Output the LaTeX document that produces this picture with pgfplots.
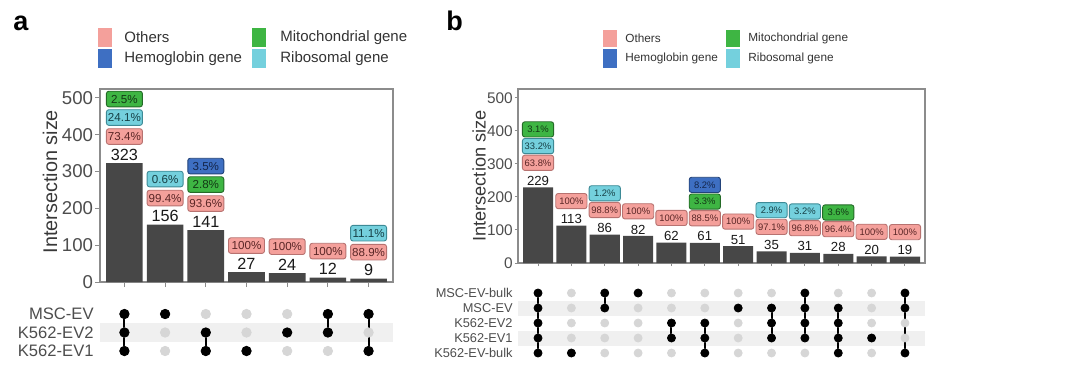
\documentclass[border=0pt]{standalone}
\usepackage{fontspec}
\setmainfont{Liberation Sans}
\usepackage{pgfplots}
\pgfplotsset{compat=1.18}
\definecolor{othF}{HTML}{F4A09B}\definecolor{othD}{HTML}{B77270}\definecolor{othT}{HTML}{5A2626}
\definecolor{hemF}{HTML}{3E6FC2}\definecolor{hemD}{HTML}{23437A}\definecolor{hemT}{HTML}{14264A}
\definecolor{mitF}{HTML}{3EB543}\definecolor{mitD}{HTML}{246A27}\definecolor{mitT}{HTML}{123815}
\definecolor{ribF}{HTML}{74D0DD}\definecolor{ribD}{HTML}{3D8A96}\definecolor{ribT}{HTML}{163F45}
\definecolor{bargrey}{HTML}{474747}
\definecolor{axgrey}{HTML}{8C8C8C}
\definecolor{tickgrey}{HTML}{4D4D4D}
\definecolor{dotgrey}{HTML}{D6D6D6}
\definecolor{bandgrey}{HTML}{F0F0F0}
\tikzset{
  pbox/.style={rounded corners=1.2pt, line width=0.45pt, inner sep=0pt},
  pa/.style={pbox, minimum width=18pt, minimum height=7.8pt, font=\fontsize{5.8}{6}\selectfont},
  pb/.style={pbox, minimum width=15.6pt, minimum height=7.6pt, font=\fontsize{4.7}{5}\selectfont},
  pO/.style={fill=othF, draw=othD, text=othT},
  pH/.style={fill=hemF, draw=hemD, text=hemT},
  pM/.style={fill=mitF, draw=mitD, text=mitT},
  pR/.style={fill=ribF, draw=ribD, text=ribT},
}
\pgfplotsset{
  barax/.style={scale only axis, anchor=south west, clip=false,
    ymin=0, tick align=outside, xtick pos=bottom, ytick pos=left,
    tick style={draw=axgrey, line width=0.5pt},
    axis line style={draw=axgrey, line width=0.6pt},
    ytick={0,100,200,300,400,500}, xticklabels={},
    /pgf/number format/assume math mode=true,
    ybar, bar width=0.9},
  matax/.style={scale only axis, anchor=south west, clip=false,
    axis line style={draw=none}, xtick=\empty, major tick length=0pt,
    ytick style={draw=none}},
}
\begin{document}
\begin{tikzpicture}[x=1pt,y=1pt]
\path[use as bounding box] (0,0) rectangle (540,194);
% panel letters
\node[anchor=base west, inner sep=0pt, font=\fontsize{13.5}{14}\selectfont\bfseries] at (6.5,179) {a};
\node[anchor=base west, inner sep=0pt, font=\fontsize{13.5}{14}\selectfont\bfseries] at (223,179) {b};
% legend a
\fill[othF] (49,170.5) rectangle (56,180);
\fill[hemF] (49,160) rectangle (56,169.5);
\fill[mitF] (126,170.5) rectangle (133,180);
\fill[ribF] (126,160) rectangle (133,169.5);
\begin{scope}[every node/.style={anchor=west, inner sep=0pt, text=black!80, font=\fontsize{7.5}{8}\selectfont}]
\node at (62,175.3) {Others};
\node at (62,164.8) {Hemoglobin gene};
\node at (140,175.3) {Mitochondrial gene};
\node at (140,164.8) {Ribosomal gene};
\end{scope}
% legend b
\fill[othF] (301.4,170.5) rectangle (308.4,179);
\fill[hemF] (301.4,160) rectangle (308.4,169.5);
\fill[mitF] (363,170.5) rectangle (370,179);
\fill[ribF] (363,160) rectangle (370,169.5);
\begin{scope}[every node/.style={anchor=west, inner sep=0pt, text=black!80, font=\fontsize{5.9}{6.5}\selectfont}]
\node at (312.5,174.8) {Others};
\node at (312.5,164.8) {Hemoglobin gene};
\node at (374,174.8) {Mitochondrial gene};
\node at (374,164.8) {Ribosomal gene};
\end{scope}
% y labels
\node[rotate=90, text=black!78, font=\fontsize{9.9}{10}\selectfont] at (25,103.25) {Intersection size};
\node[rotate=90, text=black!78, font=\fontsize{9.1}{10}\selectfont] at (239.5,106) {Intersection size};

% ===== panel a bars =====
\begin{axis}[barax, at={(50pt,53pt)}, width=146.5pt, height=96.5pt,
  xmin=-0.6, xmax=6.6, ymax=524, xtick={0,1,2,3,4,5,6},
  major tick length=2.5pt,
  yticklabel style={font=\fontsize{9.3}{10}\selectfont, text=tickgrey, inner sep=0.8pt}]
\addplot[fill=bargrey, draw=none, nodes near coords,
  nodes near coords style={font=\fontsize{8.1}{9}\selectfont, text=black!90, anchor=south, inner sep=0pt, yshift=1.2pt}]
  coordinates {(0,323) (1,156) (2,141) (3,27) (4,24) (5,12) (6,9)};
\node[pa,pO,yshift=13.25pt] at (axis cs:0,323) {73.4\%};
\node[pa,pR,yshift=22.75pt] at (axis cs:0,323) {24.1\%};
\node[pa,pM,yshift=32pt] at (axis cs:0,323) {2.5\%};
\node[pa,pO,yshift=13.25pt] at (axis cs:1,156) {99.4\%};
\node[pa,pR,yshift=22.75pt] at (axis cs:1,156) {0.6\%};
\node[pa,pO,yshift=13.25pt] at (axis cs:2,141) {93.6\%};
\node[pa,pM,yshift=22.75pt] at (axis cs:2,141) {2.8\%};
\node[pa,pH,yshift=32pt] at (axis cs:2,141) {3.5\%};
\node[pa,pO,yshift=13.25pt] at (axis cs:3,27) {100\%};
\node[pa,pO,yshift=13.25pt] at (axis cs:4,24) {100\%};
\node[pa,pO,yshift=13.25pt] at (axis cs:5,12) {100\%};
\node[pa,pO,yshift=13.25pt] at (axis cs:6,9) {88.9\%};
\node[pa,pR,yshift=22.75pt] at (axis cs:6,9) {11.1\%};
\end{axis}

% ===== panel a matrix =====
\begin{axis}[matax, at={(50pt,13.875pt)}, width=146.5pt, height=27.75pt,
  xmin=-0.6, xmax=6.6, ymin=0.5, ymax=3.5,
  ytick={1,2,3}, yticklabels={K562-EV1,K562-EV2,MSC-EV},
  yticklabel style={font=\fontsize{8.3}{9}\selectfont, text=tickgrey, inner sep=0pt, xshift=-3pt}]
\addplot[draw=none, fill=bandgrey] coordinates {(-0.6,1.5) (6.6,1.5) (6.6,2.5) (-0.6,2.5)} -- cycle;
\addplot[only marks, mark=*, mark size=2.35pt, color=dotgrey] coordinates {
 (0,1)(0,2)(0,3)(1,1)(1,2)(1,3)(2,1)(2,2)(2,3)(3,1)(3,2)(3,3)
 (4,1)(4,2)(4,3)(5,1)(5,2)(5,3)(6,1)(6,2)(6,3)};
\addplot[black, line width=1pt] coordinates {(0,1) (0,3)};
\addplot[black, line width=1pt] coordinates {(2,1) (2,2)};
\addplot[black, line width=1pt] coordinates {(5,2) (5,3)};
\addplot[black, line width=1pt] coordinates {(6,1) (6,3)};
\addplot[only marks, mark=*, mark size=2.35pt, color=black] coordinates {
 (0,1)(0,2)(0,3)(1,3)(2,1)(2,2)(3,1)(4,2)(5,2)(5,3)(6,1)(6,3)};
\end{axis}

% ===== panel b bars =====
\begin{axis}[barax, at={(259pt,62.5pt)}, width=203.5pt, height=87pt,
  xmin=-0.6, xmax=11.6, ymax=527, xtick={0,1,2,3,4,5,6,7,8,9,10,11},
  major tick length=1.6pt,
  yticklabel style={font=\fontsize{7.7}{8}\selectfont, text=tickgrey, inner sep=0.8pt}]
\addplot[fill=bargrey, draw=none, nodes near coords,
  nodes near coords style={font=\fontsize{6.6}{7}\selectfont, text=black!90, anchor=south, inner sep=0pt, yshift=0.7pt}]
  coordinates {(0,229) (1,113) (2,86) (3,82) (4,62) (5,61) (6,51) (7,35) (8,31) (9,28) (10,20) (11,19)};
\node[pb,pO,yshift=12.3pt] at (axis cs:0,229) {63.8\%};
\node[pb,pR,yshift=20.65pt] at (axis cs:0,229) {33.2\%};
\node[pb,pM,yshift=29pt] at (axis cs:0,229) {3.1\%};
\node[pb,pO,yshift=12.3pt] at (axis cs:1,113) {100\%};
\node[pb,pO,yshift=12.3pt] at (axis cs:2,86) {98.8\%};
\node[pb,pR,yshift=20.65pt] at (axis cs:2,86) {1.2\%};
\node[pb,pO,yshift=12.3pt] at (axis cs:3,82) {100\%};
\node[pb,pO,yshift=12.3pt] at (axis cs:4,62) {100\%};
\node[pb,pO,yshift=12.3pt] at (axis cs:5,61) {88.5\%};
\node[pb,pM,yshift=20.65pt] at (axis cs:5,61) {3.3\%};
\node[pb,pH,yshift=29pt] at (axis cs:5,61) {8.2\%};
\node[pb,pO,yshift=12.3pt] at (axis cs:6,51) {100\%};
\node[pb,pO,yshift=12.3pt] at (axis cs:7,35) {97.1\%};
\node[pb,pR,yshift=20.65pt] at (axis cs:7,35) {2.9\%};
\node[pb,pO,yshift=12.3pt] at (axis cs:8,31) {96.8\%};
\node[pb,pR,yshift=20.65pt] at (axis cs:8,31) {3.2\%};
\node[pb,pO,yshift=12.3pt] at (axis cs:9,28) {96.4\%};
\node[pb,pM,yshift=20.65pt] at (axis cs:9,28) {3.6\%};
\node[pb,pO,yshift=12.3pt] at (axis cs:10,20) {100\%};
\node[pb,pO,yshift=12.3pt] at (axis cs:11,19) {100\%};
\end{axis}

% ===== panel b matrix =====
\begin{axis}[matax, at={(259pt,13.75pt)}, width=203.5pt, height=37.5pt,
  xmin=-0.6, xmax=11.6, ymin=0.5, ymax=5.5,
  ytick={1,2,3,4,5}, yticklabels={K562-EV-bulk,K562-EV1,K562-EV2,MSC-EV,MSC-EV-bulk},
  yticklabel style={font=\fontsize{6.4}{7}\selectfont, text=tickgrey, inner sep=0pt, xshift=-2.5pt}]
\addplot[draw=none, fill=bandgrey] coordinates {(-0.6,1.5) (11.6,1.5) (11.6,2.5) (-0.6,2.5)} -- cycle;
\addplot[draw=none, fill=bandgrey] coordinates {(-0.6,3.5) (11.6,3.5) (11.6,4.5) (-0.6,4.5)} -- cycle;
\addplot[only marks, mark=*, mark size=2pt, color=dotgrey] coordinates {
 (0,1)(0,2)(0,3)(0,4)(0,5) (1,1)(1,2)(1,3)(1,4)(1,5)
 (2,1)(2,2)(2,3)(2,4)(2,5) (3,1)(3,2)(3,3)(3,4)(3,5)
 (4,1)(4,2)(4,3)(4,4)(4,5) (5,1)(5,2)(5,3)(5,4)(5,5)
 (6,1)(6,2)(6,3)(6,4)(6,5) (7,1)(7,2)(7,3)(7,4)(7,5)
 (8,1)(8,2)(8,3)(8,4)(8,5) (9,1)(9,2)(9,3)(9,4)(9,5)
 (10,1)(10,2)(10,3)(10,4)(10,5) (11,1)(11,2)(11,3)(11,4)(11,5)};
\addplot[black, line width=1pt] coordinates {(0,1) (0,5)};
\addplot[black, line width=1pt] coordinates {(2,4) (2,5)};
\addplot[black, line width=1pt] coordinates {(4,2) (4,3)};
\addplot[black, line width=1pt] coordinates {(5,1) (5,3)};
\addplot[black, line width=1pt] coordinates {(7,2) (7,4)};
\addplot[black, line width=1pt] coordinates {(8,2) (8,5)};
\addplot[black, line width=1pt] coordinates {(9,1) (9,4)};
\addplot[black, line width=1pt] coordinates {(11,1) (11,5)};
\addplot[only marks, mark=*, mark size=2pt, color=black] coordinates {
 (0,1)(0,2)(0,3)(0,4)(0,5) (1,1) (2,4)(2,5) (3,5) (4,2)(4,3)
 (5,1)(5,2)(5,3) (6,4) (7,2)(7,3)(7,4) (8,2)(8,3)(8,4)(8,5)
 (9,1)(9,2)(9,3)(9,4) (10,2) (11,1)(11,4)(11,5)};
\end{axis}
\end{tikzpicture}
\end{document}
